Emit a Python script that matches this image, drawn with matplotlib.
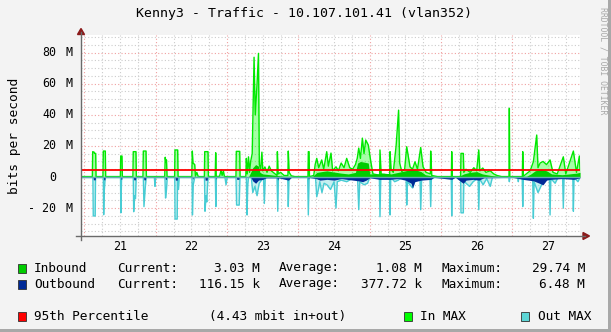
import numpy as np
import matplotlib
matplotlib.use("Agg")
from matplotlib import pyplot as plt
from matplotlib import transforms
from matplotlib.lines import Line2D
from matplotlib.patches import Rectangle, Polygon

# --- data (time in day-of-month, values in Mbit/s) ---

in_max = [
    (20.951, 0.3),
    (21.110, 0.3), (21.115, 16.3), (21.135, 16.0), (21.140, 15.2), (21.157, 15.2), (21.162, 0.3),
    (21.259, 0.3), (21.264, 16.7), (21.292, 16.7), (21.297, 0.3),
    (21.503, 0.3), (21.508, 13.5), (21.526, 13.5), (21.531, 0.3),
    (21.679, 0.3), (21.684, 16.3), (21.722, 16.3), (21.727, 0.3),
    (21.820, 0.3), (21.825, 16.7), (21.863, 16.7), (21.868, 0.3),
    (22.125, 0.3), (22.132, 12.7), (22.142, 9.5), (22.150, 11.0), (22.158, 0.3),
    (22.264, 0.3), (22.269, 17.4), (22.307, 17.4), (22.312, 0.3),
    (22.505, 0.3), (22.512, 16.7), (22.522, 9.0), (22.546, 8.0), (22.556, 0.5), (22.575, 3.0), (22.595, 0.3),
    (22.681, 0.3), (22.686, 16.3), (22.732, 16.3), (22.737, 0.3),
    (22.833, 0.3), (22.840, 15.6), (22.848, 0.3),
    (22.895, 0.5), (22.915, 4.5), (22.930, 1.0), (22.948, 4.0), (22.962, 0.3),
    (23.124, 0.3), (23.129, 16.5), (23.177, 16.5), (23.182, 0.3),
    (23.262, 0.3), (23.270, 12.0), (23.282, 2.0), (23.300, 13.0), (23.315, 3.0), (23.330, 10.0),
    (23.352, 15.0), (23.378, 77.0), (23.395, 40.0), (23.420, 60.0), (23.440, 79.5), (23.452, 8.0),
    (23.470, 5.0), (23.488, 16.0), (23.500, 4.0), (23.530, 6.5), (23.560, 3.0), (23.590, 7.0),
    (23.620, 4.0), (23.660, 2.5), (23.700, 1.0), (23.705, 16.3), (23.716, 2.0), (23.750, 3.0),
    (23.800, 1.0), (23.853, 1.0), (23.858, 16.7), (23.870, 3.0), (23.900, 0.8), (23.950, 0.3),
    (24.134, 0.3), (24.139, 16.3), (24.150, 16.3), (24.155, 0.3),
    (24.215, 1.0), (24.235, 8.0), (24.257, 12.0), (24.285, 6.0), (24.327, 11.0), (24.355, 5.0),
    (24.397, 16.3), (24.420, 7.0), (24.457, 15.4), (24.480, 4.0), (24.527, 6.6), (24.560, 4.0),
    (24.600, 9.0), (24.640, 6.0), (24.677, 12.0), (24.720, 6.0), (24.760, 5.0), (24.800, 8.0),
    (24.825, 12.0), (24.846, 18.6), (24.870, 12.0), (24.897, 25.0), (24.920, 15.0), (24.944, 23.8),
    (24.980, 20.6), (25.015, 10.0), (25.045, 2.0), (25.100, 1.5),
    (25.139, 1.0), (25.144, 17.4), (25.160, 2.0), (25.220, 1.5), (25.280, 1.5), (25.285, 16.3),
    (25.300, 5.0), (25.330, 3.0), (25.370, 20.0), (25.405, 43.0), (25.420, 9.0), (25.450, 3.5),
    (25.490, 5.0), (25.519, 19.5), (25.565, 6.6), (25.600, 5.0), (25.635, 9.8), (25.670, 5.0),
    (25.715, 19.0), (25.748, 6.6), (25.790, 3.0), (25.850, 2.0), (25.855, 16.7), (25.870, 1.0),
    (25.950, 0.3),
    (26.145, 0.3), (26.150, 16.3), (26.158, 0.3),
    (26.275, 0.3), (26.280, 15.2), (26.313, 15.2), (26.320, 3.0), (26.350, 5.0), (26.410, 3.0),
    (26.460, 6.0), (26.500, 4.0), (26.529, 17.4), (26.545, 4.0), (26.585, 5.8), (26.630, 3.0),
    (26.690, 4.0), (26.740, 2.0), (26.785, 1.0), (26.850, 0.3),
    (26.953, 0.3), (26.958, 44.2), (26.964, 0.3),
    (27.140, 0.3), (27.146, 16.3), (27.155, 0.5), (27.250, 4.0), (27.295, 9.8), (27.342, 27.0),
    (27.360, 6.0), (27.390, 9.0), (27.431, 10.0), (27.480, 8.0), (27.529, 11.0), (27.570, 3.0),
    (27.630, 2.0), (27.715, 13.0), (27.750, 2.0), (27.856, 16.7), (27.900, 3.0), (27.940, 13.5),
    (27.949, 5.0),
]

in_avg = [
    (20.951, 0.1), (23.300, 0.1), (23.330, 3.0), (23.360, 6.0), (23.400, 8.0), (23.440, 7.0),
    (23.460, 3.0), (23.500, 2.0), (23.600, 1.5), (23.700, 1.0), (23.800, 0.5), (24.200, 0.5),
    (24.260, 3.0), (24.330, 3.5), (24.400, 4.0), (24.460, 3.5), (24.530, 3.0), (24.600, 2.5),
    (24.700, 2.0), (24.800, 3.0), (24.830, 9.0), (24.870, 10.0), (24.930, 9.5), (24.980, 9.0),
    (25.000, 2.0), (25.100, 2.0), (25.200, 2.5), (25.300, 2.0), (25.400, 3.0), (25.500, 4.0),
    (25.580, 5.0), (25.650, 4.5), (25.720, 3.5), (25.780, 1.5), (25.900, 0.5), (26.250, 0.5),
    (26.320, 2.0), (26.400, 3.0), (26.500, 3.5), (26.580, 2.0), (26.700, 1.0), (26.800, 0.5),
    (27.200, 0.5), (27.260, 2.0), (27.320, 4.0), (27.400, 5.0), (27.480, 4.0), (27.550, 2.0),
    (27.700, 1.5), (27.800, 2.0), (27.900, 2.5), (27.949, 3.0),
]

out_max = [
    (20.951, -0.3),
    (21.118, -0.3), (21.123, -25.0), (21.150, -25.0), (21.155, -0.3),
    (21.264, -0.3), (21.269, -24.2), (21.276, -10.0), (21.290, -0.3),
    (21.505, -0.3), (21.510, -23.0), (21.520, -0.3),
    (21.684, -0.3), (21.690, -22.3), (21.700, -12.0), (21.715, -14.0), (21.725, -0.3),
    (21.825, -0.3), (21.834, -19.0), (21.850, -8.0), (21.865, -0.3),
    (21.980, -0.3), (21.989, -6.0), (21.998, -0.3),
    (22.128, -0.3), (22.137, -13.5), (22.150, -8.0), (22.160, -0.3),
    (22.266, -0.3), (22.270, -27.0), (22.300, -27.0), (22.305, -0.3), (22.318, -8.0), (22.328, -0.3),
    (22.508, -0.3), (22.514, -24.4), (22.525, -5.0), (22.545, -0.3),
    (22.683, -0.3), (22.690, -22.0), (22.705, -12.0), (22.715, -16.0), (22.726, -5.0), (22.735, -0.3),
    (22.835, -0.3), (22.842, -19.0), (22.850, -0.3),
    (22.970, -0.3), (22.985, -5.0), (23.000, -0.3),
    (23.125, -0.3), (23.133, -18.0), (23.170, -18.0), (23.180, -0.3),
    (23.270, -0.3), (23.280, -24.4), (23.290, -5.0), (23.300, -0.3),
    (23.340, -0.3), (23.360, -10.0), (23.390, -6.0), (23.420, -12.0), (23.450, -4.0), (23.510, -0.3),
    (23.522, -17.0), (23.535, -0.3),
    (23.700, -0.3), (23.710, -22.0), (23.720, -0.3),
    (23.850, -0.3), (23.858, -19.0), (23.868, -0.3),
    (24.130, -0.3), (24.139, -24.4), (24.150, -0.3),
    (24.240, -0.3), (24.257, -12.7), (24.280, -8.0), (24.300, -3.0), (24.330, -10.0), (24.360, -4.0),
    (24.400, -5.0), (24.450, -8.0), (24.500, -3.0), (24.527, -20.0), (24.545, -3.0), (24.600, -2.0),
    (24.677, -3.0), (24.750, -1.0), (24.830, -1.0), (24.846, -21.0), (24.860, -3.0), (24.920, -5.0),
    (24.970, -4.0), (25.000, -0.3),
    (25.135, -0.3), (25.144, -25.5), (25.155, -0.3),
    (25.278, -0.3), (25.285, -24.4), (25.295, -0.3), (25.350, -3.0), (25.400, -2.0), (25.440, -0.5),
    (25.510, -0.5), (25.519, -18.0), (25.530, -3.0), (25.600, -7.0), (25.640, -2.0), (25.705, -0.5),
    (25.715, -21.0), (25.728, -1.0), (25.845, -0.3), (25.855, -19.0), (25.865, -0.3),
    (26.143, -0.3), (26.150, -25.0), (26.158, -0.3),
    (26.275, -0.3), (26.280, -23.0), (26.313, -23.0), (26.320, -2.0), (26.350, -4.0), (26.400, -6.0),
    (26.450, -3.0), (26.520, -0.5), (26.529, -21.0), (26.540, -1.0), (26.590, -5.0), (26.640, -1.0),
    (26.690, -6.0), (26.720, -0.3),
    (26.950, -0.3), (26.958, -3.0), (26.966, -0.3),
    (27.078, -0.3), (27.084, -3.0), (27.090, -0.3),
    (27.138, -0.3), (27.146, -19.0), (27.155, -0.3),
    (27.285, -0.5), (27.295, -26.5), (27.305, -3.0), (27.360, -10.0), (27.400, -6.0), (27.440, -2.0),
    (27.520, -0.5), (27.529, -24.4), (27.540, -1.0), (27.600, -4.0), (27.640, -0.3),
    (27.705, -0.3), (27.715, -20.0), (27.725, -0.3),
    (27.848, -0.3), (27.856, -22.0), (27.865, -0.3), (27.920, -3.0), (27.949, -0.3),
]

out_avg = [
    (20.951, 0.0), (21.120, 0.0), (21.125, -1.8), (21.150, -1.8), (21.155, 0.0),
    (21.265, 0.0), (21.270, -1.8), (21.285, -1.8), (21.290, 0.0),
    (21.508, 0.0), (21.512, -1.5), (21.522, -1.5), (21.526, 0.0),
    (21.686, 0.0), (21.690, -1.8), (21.715, -1.8), (21.720, 0.0),
    (21.828, 0.0), (21.832, -1.8), (21.855, -1.8), (21.860, 0.0),
    (22.130, 0.0), (22.135, -1.5), (22.148, -1.5), (22.152, 0.0),
    (22.270, 0.0), (22.275, -2.0), (22.300, -2.0), (22.305, 0.0),
    (22.510, 0.0), (22.515, -1.5), (22.530, 0.0),
    (22.688, 0.0), (22.692, -2.0), (22.720, -2.0), (22.725, 0.0),
    (22.838, 0.0), (22.842, -1.5), (22.848, 0.0),
    (23.130, 0.0), (23.135, -1.5), (23.165, -1.5), (23.170, 0.0),
    (23.330, 0.0), (23.360, -2.5), (23.400, -4.0), (23.440, -2.0), (23.500, -1.5), (23.550, -0.5),
    (23.700, -0.5), (23.710, -2.0), (23.720, -0.5), (23.860, -2.0), (23.900, -0.3),
    (24.135, -0.3), (24.140, -1.5), (24.150, -0.3), (24.250, -1.0), (24.300, -2.0), (24.400, -1.5),
    (24.500, -2.0), (24.600, -1.0), (24.850, -2.5), (24.900, -3.0), (24.950, -2.0), (25.000, -0.5),
    (25.140, -1.5), (25.280, -1.5), (25.400, -1.0), (25.500, -2.0), (25.580, -4.0), (25.600, -7.0),
    (25.630, -3.0), (25.720, -2.0), (25.860, -1.5), (25.900, -0.2), (26.150, -1.5), (26.200, -0.2),
    (26.280, -3.0), (26.310, -4.0), (26.350, -2.0), (26.450, -1.5), (26.530, -2.0), (26.600, -0.5),
    (27.000, -0.2), (27.150, -1.5), (27.300, -2.5), (27.380, -4.0), (27.430, -5.0), (27.480, -2.0),
    (27.530, -1.5), (27.700, -1.0), (27.860, -1.5), (27.949, -0.5),
]

percentile_95 = 4.43
day_labels = ["21", "22", "23", "24", "25", "26", "27"]
y_major = [-20, 20, 40, 60, 80]
y_labels = ["- 20", "20", "40", "60", "80"]

legend_rows = [
    ("Inbound", "3.03 M", "1.08 M", "29.74 M"),
    ("Outbound", "116.15 k", "377.72 k", "6.48 M"),
]

W, H = 611, 332
MONO = "DejaVu Sans Mono"


def fxy(x, y):
    """Pixelkoordinaten (von oben links) in Figurenkoordinaten."""
    return x / W, 1 - y / H


def ftext(fig, x, y, s, **kw):
    fx, fy = fxy(x, y)
    kw.setdefault("family", MONO)
    kw.setdefault("fontsize", 9.2)
    kw.setdefault("va", "center")
    fig.text(fx, fy, s, **kw)


def square(fig, x, y, color):
    fx, fy = fxy(x, y + 9)
    fig.add_artist(Rectangle((fx, fy), 8.5 / W, 9 / H, transform=fig.transFigure,
                             facecolor=color, edgecolor="#303030", lw=0.6))


def main():
    fig = plt.figure(figsize=(W / 100, H / 100), dpi=100, facecolor="#F3F3F3")
    ax = fig.add_axes([81 / W, 1 - 236 / H, (580 - 81) / W, (236 - 35) / H])
    ax.set_facecolor("white")
    ax.set_xlim(20.951, 27.949)
    ax.set_ylim(-37.9, 91.3)
    for sp in ax.spines.values():
        sp.set_visible(False)
    ax.set_xticks([])
    ax.set_yticks([])

    # Gitter
    dots = (0, (1, 2))
    for d in np.arange(21, 27.95, 0.25):
        col = "#F0A0A0" if d % 1 == 0 else "#CCCCCC"
        ax.axvline(d, color=col, lw=0.8, ls=dots, zorder=0)
    for yv in np.arange(-35, 91, 5):
        if yv == 0:
            continue
        col = "#F0A0A0" if yv % 20 == 0 else "#CCCCCC"
        ax.axhline(yv, color=col, lw=0.8, ls=dots, zorder=0)

    # Kurven
    t, v = np.array(in_max).T
    ax.fill_between(t, v, 0, color="#00FF00", alpha=0.35, lw=0, zorder=2)
    ax.plot(t, v, color="#00E800", lw=1.0, zorder=3)
    t, v = np.array(in_avg).T
    ax.fill_between(t, v, 0, color="#00CC00", lw=0, zorder=4)
    t, v = np.array(out_max).T
    ax.fill_between(t, v, 0, color="#5DD6D6", alpha=0.35, lw=0, zorder=2)
    ax.plot(t, v, color="#48CCD4", lw=1.0, zorder=3)
    t, v = np.array(out_avg).T
    ax.fill_between(t, v, 0, color="#002A97", lw=0, zorder=4)
    ax.axhline(0, color="#6AAAB0", lw=1, zorder=5)
    ax.axhline(percentile_95, color="#FF0000", lw=1.3, zorder=6)

    # Achsen mit Pfeilen
    fig.add_artist(Line2D(*zip(fxy(81, 240), fxy(81, 32)), transform=fig.transFigure,
                          color="#6A6A6A", lw=1))
    fig.add_artist(Line2D(*zip(fxy(76, 236), fxy(585, 236)), transform=fig.transFigure,
                          color="#6A6A6A", lw=1))
    fig.add_artist(Polygon([fxy(77.5, 34.5), fxy(84.5, 34.5), fxy(81, 28.5)],
                           transform=fig.transFigure, color="#8B1A1A"))
    fig.add_artist(Polygon([fxy(583, 232.5), fxy(583, 239.5), fxy(589.5, 236)],
                           transform=fig.transFigure, color="#8B1A1A"))

    # Beschriftung der Achsen
    tr_y = transforms.blended_transform_factory(fig.transFigure, ax.transData)
    for yv, lab in zip(y_major, y_labels):
        fig.text(56 / W, yv, lab, transform=tr_y, family=MONO, fontsize=8.4,
                 ha="right", va="center")
        fig.text(65 / W, yv, "M", transform=tr_y, family=MONO, fontsize=8.4,
                 ha="left", va="center")
    fig.text(56 / W, 0, "0", transform=tr_y, family=MONO, fontsize=8.4,
             ha="right", va="center")
    tr_x = transforms.blended_transform_factory(ax.transData, fig.transFigure)
    for i, lab in enumerate(day_labels):
        fig.text(21.5 + i, 1 - 246 / H, lab, transform=tr_x, family=MONO,
                 fontsize=8.4, ha="center", va="center")

    ftext(fig, 304, 14, "Kenny3 - Traffic - 10.107.101.41 (vlan352)", ha="center",
          fontsize=9.5)
    ftext(fig, 15, 136, "bits per second", ha="center", rotation=90, fontsize=9.3)
    ftext(fig, 603, 7, "RRDTOOL / TOBI OETIKER", ha="center", va="top", rotation=270,
          fontsize=5.9, color="#A8A8A8")

    # Legende
    for (name, cur, avg, mx), yy, col in zip(legend_rows, [268, 284], ["#00CC00", "#002A97"]):
        square(fig, 17.5, yy - 4.5, col)
        ftext(fig, 34, yy, name)
        ftext(fig, 117, yy, "Current:")
        ftext(fig, 260, yy, cur, ha="right")
        ftext(fig, 279, yy, "Average:")
        ftext(fig, 422, yy, avg, ha="right")
        ftext(fig, 441, yy, "Maximum:")
        ftext(fig, 585, yy, mx, ha="right")
    square(fig, 17.5, 312, "#FF0000")
    ftext(fig, 34, 316.5, "95th Percentile")
    ftext(fig, 209, 316.5, "(%.2f mbit in+out)" % percentile_95)
    square(fig, 403.5, 312, "#00FF00")
    ftext(fig, 420, 316.5, "In MAX")
    square(fig, 520.5, 312, "#5DD6D6")
    ftext(fig, 538, 316.5, "Out MAX")

    # Rahmen
    fig.add_artist(Rectangle(fxy(608, 332), 3 / W, 1, transform=fig.transFigure,
                             color="#A8A8A8", lw=0))
    fig.add_artist(Rectangle(fxy(0, 332), 1, 3 / H, transform=fig.transFigure,
                             color="#A8A8A8", lw=0))

    fig.savefig("out.png", dpi=100, facecolor=fig.get_facecolor())


if __name__ == "__main__":
    main()
